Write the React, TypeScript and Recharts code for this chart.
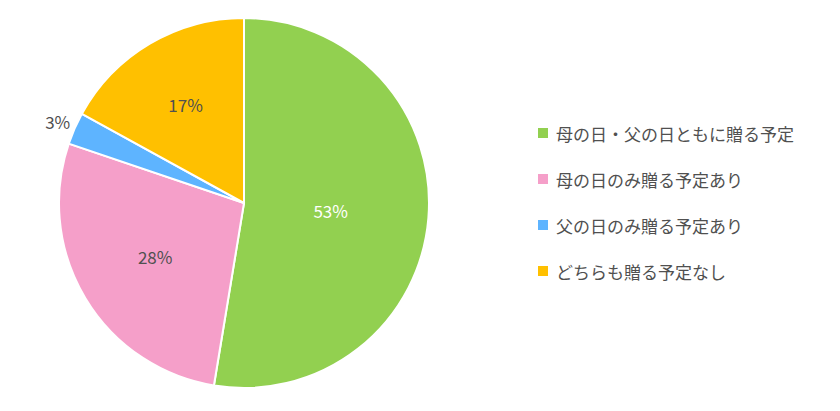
import { PieChart, Pie, Cell } from 'recharts';

const CATEGORIES = [
  '母の日・父の日ともに贈る予定',
  '母の日のみ贈る予定あり',
  '父の日のみ贈る予定あり',
  'どちらも贈る予定なし',
];
const VALUES = [52.6, 27.6, 2.8, 17.0];
const LABELS = ['53%', '28%', '3%', '17%'];
const COLORS = ['#92D050', '#F59FC9', '#5EB4FF', '#FFC000'];

const FONT = '"Noto Sans CJK JP", "Noto Sans", sans-serif';
const TEXT = '#505050';

const data = CATEGORIES.map((name, i) => ({ name, value: VALUES[i], label: LABELS[i] }));

const RAD = Math.PI / 180;
// how far out each label sits, as a share of the radius (small slice goes outside)
const LABEL_POS = [0.47, 0.56, 1.1, 0.62];

const renderLabel = (props: any) => {
  const { cx, cy, midAngle, outerRadius, index } = props;
  const r = outerRadius * LABEL_POS[index];
  const x = cx + r * Math.cos(-midAngle * RAD);
  const y = cy + r * Math.sin(-midAngle * RAD);
  return (
    <text
      x={x}
      y={y}
      textAnchor="middle"
      dominantBaseline="central"
      fontSize={17}
      fontFamily={FONT}
      fill={index === 0 ? '#FFFFFF' : TEXT}
    >
      {data[index].label}
    </text>
  );
};

export default function App() {
  return (
    <div style={{ position: 'fixed', left: 0, top: 0, width: 840, height: 411, background: '#fff' }}>
      <PieChart width={840} height={411} margin={{ top: 0, right: 0, bottom: 0, left: 0 }}>
        <Pie
          data={data}
          dataKey="value"
          nameKey="name"
          cx={244}
          cy={203}
          outerRadius={185}
          startAngle={90}
          endAngle={-270}
          stroke="#FFFFFF"
          strokeWidth={2}
          label={renderLabel}
          labelLine={false}
          isAnimationActive={false}
        >
          {data.map((d, i) => (
            <Cell key={d.name} fill={COLORS[i]} />
          ))}
        </Pie>
      </PieChart>
      <div
        style={{
          position: 'absolute',
          left: 538,
          top: 110,
          fontFamily: FONT,
          fontSize: 17,
          color: TEXT,
        }}
      >
        {data.map((d, i) => (
          <div key={d.name} style={{ display: 'flex', alignItems: 'center', height: 46 }}>
            <span style={{ width: 10, height: 10, background: COLORS[i], marginRight: 8, display: 'inline-block' }} />
            <span>{d.name}</span>
          </div>
        ))}
      </div>
    </div>
  );
}
